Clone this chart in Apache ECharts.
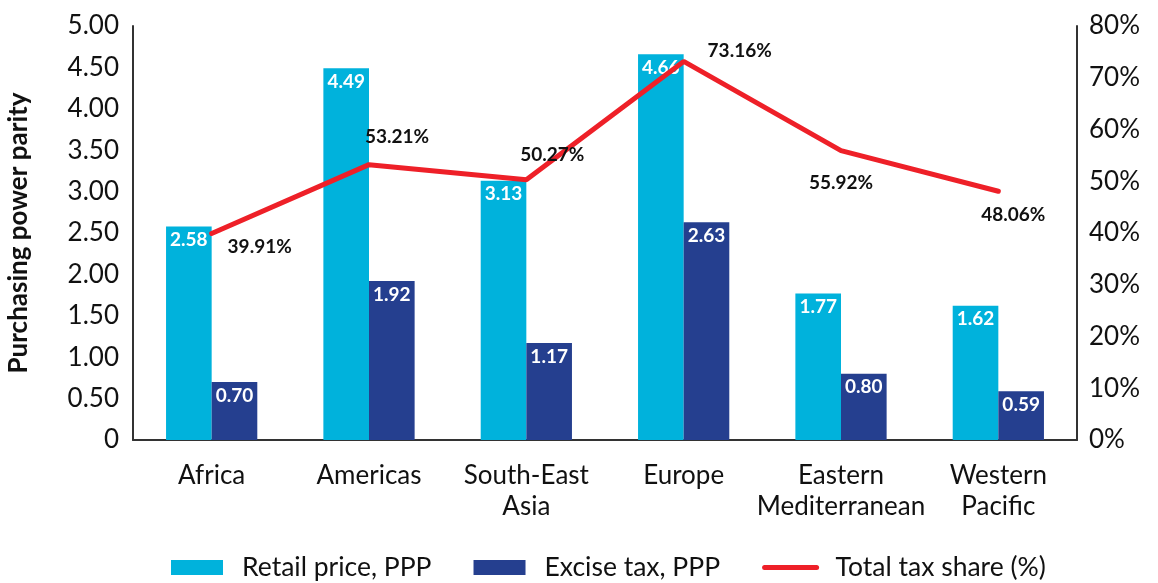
<!DOCTYPE html>
<html><head><meta charset="utf-8">
<script src="https://cdn.jsdelivr.net/npm/echarts@6/dist/echarts.min.js"></script>
<style>html,body{margin:0;padding:0;background:#fff}#c{width:1158px;height:583px}</style>
</head><body><div id="c"></div>
<script>
const categories = ['Africa', 'Americas', 'South-East\nAsia', 'Europe', 'Eastern\nMediterranean', 'Western\nPacific'];
const retailPrice = [2.58, 4.49, 3.13, 4.66, 1.77, 1.62];
const exciseTax = [0.70, 1.92, 1.17, 2.63, 0.80, 0.59];
const totalTaxShare = [39.91, 53.21, 50.27, 73.16, 55.92, 48.06];
const leftTicks = ['0', '0.50', '1.00', '1.50', '2.00', '2.50', '3.00', '3.50', '4.00', '4.50', '5.00'];
const lineLabelOffsets = [[48, 13], [28, -28], [26, -25], [56, -11], [0, 32], [15, 24]];

const FONT = 'Lato';
const chart = echarts.init(document.getElementById('c'));
chart.setOption({
  animation: false,
  textStyle: { fontFamily: FONT },
  grid: { left: 133, right: 81, top: 26, bottom: 143, outerBoundsMode: 'none', containLabel: false },
  legend: {
    top: 549, left: 166, itemGap: 42, itemWidth: 52, itemHeight: 15,
    textStyle: { fontFamily: FONT, fontSize: 26.5, color: '#111', padding: [0, 0, 0, 14] },
    data: [
      { name: 'Retail price, PPP', icon: 'rect' },
      { name: 'Excise tax, PPP', icon: 'rect' },
      { name: 'Total tax share (%)', itemStyle: { opacity: 0 }, lineStyle: { width: 5, cap: 'round', color: '#EE2028' } }
    ]
  },
  xAxis: {
    type: 'category', data: categories,
    axisLine: { lineStyle: { color: '#333', width: 2 } },
    axisTick: { show: false },
    axisLabel: { fontSize: 26, color: '#111', margin: 20, lineHeight: 31, interval: 0 }
  },
  yAxis: [
    {
      type: 'value', min: 0, max: 5, interval: 0.5,
      name: 'Purchasing power parity', nameLocation: 'middle', nameGap: 101, nameRotate: 90,
      nameTextStyle: { fontSize: 26, fontWeight: 'bold', color: '#111' },
      axisLine: { show: true, lineStyle: { color: '#333', width: 2 } },
      axisTick: { show: false }, splitLine: { show: false },
      axisLabel: { fontSize: 26, color: '#111', margin: 14,
        formatter: v => leftTicks[Math.round(v / 0.5)] }
    },
    {
      type: 'value', min: 0, max: 80, interval: 10, position: 'right',
      axisLine: { show: true, lineStyle: { color: '#333', width: 2 } },
      axisTick: { show: false }, splitLine: { show: false },
      axisLabel: { fontSize: 26, color: '#111', margin: 12, formatter: '{value}%' }
    }
  ],
  series: [
    {
      name: 'Retail price, PPP', type: 'bar', data: retailPrice, barGap: '0%', barCategoryGap: '42%',
      itemStyle: { color: '#00B2DC' },
      label: { show: true, position: 'insideTop', distance: 4, color: '#fff', fontWeight: 'bold', fontSize: 19,
        formatter: p => p.value.toFixed(2) }
    },
    {
      name: 'Excise tax, PPP', type: 'bar', data: exciseTax,
      itemStyle: { color: '#253F8F' },
      label: { show: true, position: 'insideTop', distance: 4, color: '#fff', fontWeight: 'bold', fontSize: 19,
        formatter: p => p.value.toFixed(2) }
    },
    {
      name: 'Total tax share (%)', type: 'line', yAxisIndex: 1,
      data: totalTaxShare.map((v, i) => ({ value: v, symbol: 'circle', symbolSize: 1, label: { offset: lineLabelOffsets[i] } })),
      symbol: 'none', z: 5,
      lineStyle: { color: '#EE2028', width: 5, cap: 'round' },
      itemStyle: { color: '#EE2028' },
      label: { show: true, position: 'inside', color: '#111', fontWeight: 'bold', fontSize: 19,
        formatter: p => p.value.toFixed(2) + '%' }
    }
  ]
});
</script></body></html>
